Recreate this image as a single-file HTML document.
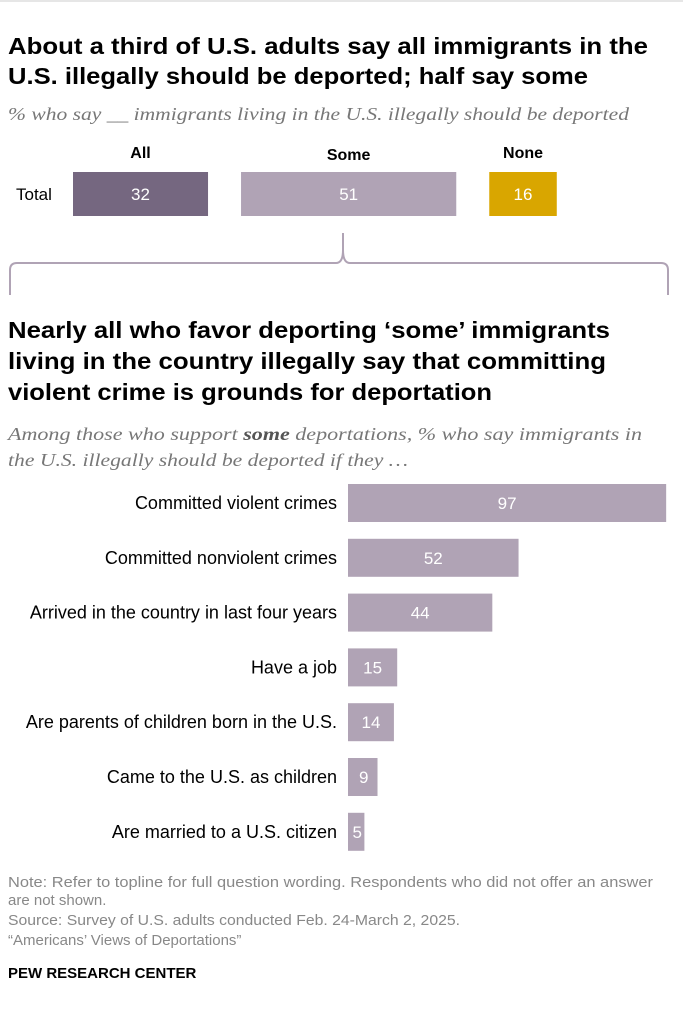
<!DOCTYPE html>
<html><head><meta charset="utf-8"><style>
body{margin:0;background:#fff;width:683px;height:1024px;overflow:hidden;font-family:"Liberation Sans",sans-serif;}
svg text{font-family:"Liberation Sans",sans-serif;}
.ser{font-family:"Liberation Serif",serif !important;}
</style></head><body>
<svg width="683" height="1024">
<line x1="0" y1="1" x2="683" y2="1" stroke="#ccc"/>
<text x="8" y="54" font-size="23" font-weight="bold" fill="#000" textLength="640" lengthAdjust="spacingAndGlyphs">About a third of U.S. adults say all immigrants in the</text>
<text x="8" y="84" font-size="23" font-weight="bold" fill="#000" textLength="580" lengthAdjust="spacingAndGlyphs">U.S. illegally should be deported; half say some</text>
<text x="8" y="120" font-size="18" font-style="italic" fill="#777" class="ser" textLength="621" lengthAdjust="spacingAndGlyphs">% who say __ immigrants living in the U.S. illegally should be deported</text>
<g id="topchart"></g>
<path d="M10,295 L10,270 Q10,263 17,263 L336,263 Q343,263 343,250 L343,233 M343,250 Q343,263 350,263 L661,263 Q668,263 668,270 L668,295" fill="none" stroke="#b0a3b5" stroke-width="2"/>
<text x="8" y="338" font-size="23" font-weight="bold" textLength="602" lengthAdjust="spacingAndGlyphs">Nearly all who favor deporting ‘some’ immigrants</text>
<text x="8" y="369" font-size="23" font-weight="bold" textLength="598" lengthAdjust="spacingAndGlyphs">living in the country illegally say that committing</text>
<text x="8" y="400" font-size="23" font-weight="bold" textLength="484" lengthAdjust="spacingAndGlyphs">violent crime is grounds for deportation</text>
<text x="8" y="440" font-size="18" font-style="italic" fill="#777" class="ser" textLength="634" lengthAdjust="spacingAndGlyphs">Among those who support <tspan font-weight="bold" fill="#555">some</tspan> deportations, % who say immigrants in</text>
<text x="8" y="466" font-size="18" font-style="italic" fill="#777" class="ser" textLength="400" lengthAdjust="spacingAndGlyphs">the U.S. illegally should be deported if they …</text>
<g id="bars"></g>
<text x="8" y="887" font-size="15" fill="#888" textLength="645" lengthAdjust="spacingAndGlyphs">Note: Refer to topline for full question wording. Respondents who did not offer an answer</text>
<text x="8" y="905" font-size="15" fill="#888">are not shown.</text>
<text x="8" y="925" font-size="15" fill="#888" textLength="452" lengthAdjust="spacingAndGlyphs">Source: Survey of U.S. adults conducted Feb. 24-March 2, 2025.</text>
<text x="8" y="945" font-size="15" fill="#888">“Americans’ Views of Deportations”</text>
<text x="8" y="978" font-size="15" font-weight="bold" fill="#000">PEW RESEARCH CENTER</text>
</svg>
<script>
const topCats=["All","Some","None"];
const topVals=[32,51,16];
const topColors=["#756780","#b0a3b5","#d9a600"];
const cats=["Committed violent crimes","Committed nonviolent crimes","Arrived in the country in last four years","Have a job","Are parents of children born in the U.S.","Came to the U.S. as children","Are married to a U.S. citizen"];
const vals=[97,52,44,15,14,9,5];
const NS="http://www.w3.org/2000/svg";
function mk(t,a,p){const e=document.createElementNS(NS,t);for(const k in a)e.setAttribute(k,a[k]);p.appendChild(e);return e;}
const tg=document.getElementById('topchart');
const tx=v=>v*4.22;
let lab=mk('text',{x:16,y:200,'font-size':17},tg);lab.textContent="Total";


let x=73;
topVals.forEach((v,i)=>{
 const w=tx(v);
 const r=mk('rect',{x:x,y:172,width:w,height:44,fill:topColors[i]},tg);
 
 
 const h=mk('text',{x:x+w/2,y:i==1?160:158,'font-size':16,'font-weight':'bold','text-anchor':'middle'},tg);h.textContent=topCats[i];
 
 
 const t=mk('text',{x:x+w/2,y:200,'font-size':17,fill:'#fff','text-anchor':'middle'},tg);t.textContent=v;
 
 
 x+=w+33;
});
const g=document.getElementById('bars');
const bx=v=>v*3.28, x0=348, y0=484, step=54.8, bh=38;
vals.forEach((v,i)=>{
 const y=y0+i*step, w=bx(v);
 const r=mk('rect',{x:x0,y:y,width:w,height:bh,fill:'#b0a3b5'},g);
 
 
 const l=mk('text',{x:337,y:y+bh/2+6,'font-size':18,'text-anchor':'end'},g);l.textContent=cats[i];
 
 
 const vx=w>40?x0+w/2:x0+w/2+1;
 const t=mk('text',{x:vx,y:y+bh/2+6,'font-size':17,fill:'#fff','text-anchor':'middle'},g);t.textContent=v;
 
 
});
</script>
</body></html>
